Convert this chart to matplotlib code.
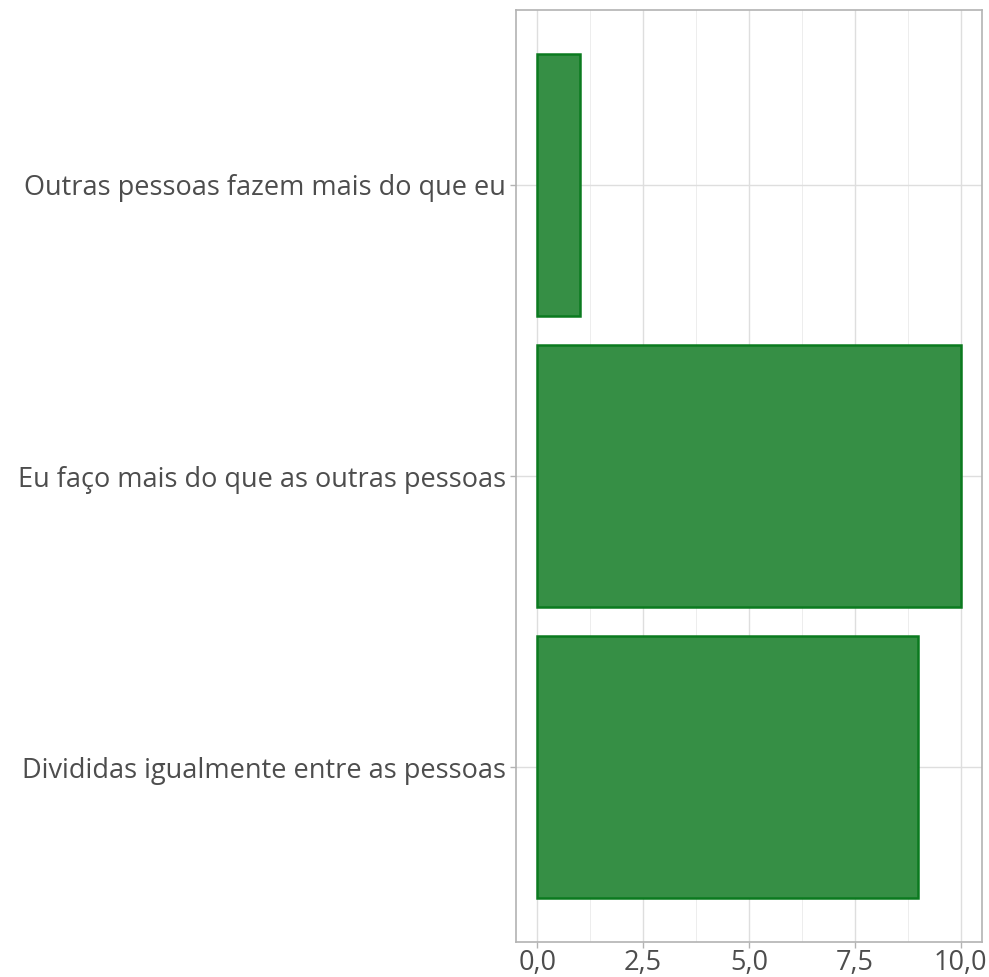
import matplotlib
matplotlib.use("Agg")
import matplotlib.pyplot as plt
from matplotlib.ticker import FixedLocator, FuncFormatter

categorias = ["Divididas igualmente entre as pessoas",
              "Eu faço mais do que as outras pessoas",
              "Outras pessoas fazem mais do que eu"]
valores = [9, 10, 1]
xticks = [0, 2.5, 5, 7.5, 10]
xminor = [1.25, 3.75, 6.25, 8.75]

plt.rcParams['font.family'] = ['Open Sans', 'DejaVu Sans']

W, H = 989, 977
fig = plt.figure(figsize=(W / 100, H / 100), dpi=100)
ax = fig.add_axes([516 / W, 1 - 942 / H, (982 - 516) / W, (942 - 10) / H])

ypos = list(range(1, len(categorias) + 1))
ax.barh(ypos, valores, height=0.9, color='#368f45', edgecolor='#0b7a1f',
        linewidth=1.8, zorder=3)

ax.set_xlim(-0.5, 10.5)
ax.set_ylim(0.4, 3.6)

ax.xaxis.set_major_locator(FixedLocator(xticks))
ax.xaxis.set_minor_locator(FixedLocator(xminor))
ax.xaxis.set_major_formatter(FuncFormatter(lambda v, p: f"{v:.1f}".replace(".", ",")))
ax.set_yticks(ypos)
ax.set_yticklabels(categorias)

ax.grid(True, which='major', color='#dedede', linewidth=1.0, zorder=0)
ax.grid(True, which='minor', axis='x', color='#ededed', linewidth=0.7, zorder=0)
ax.set_axisbelow(True)

for s in ax.spines.values():
    s.set_color('#b3b3b3')
    s.set_linewidth(1.2)

ax.tick_params(axis='both', which='major', colors='#b3b3b3', length=4, width=1,
               labelcolor='#4d4d4d', labelsize=19.5, pad=3)
ax.tick_params(axis='x', which='major', pad=1)
ax.tick_params(axis='both', which='minor', length=0)

fig.savefig("out.png", dpi=100, facecolor='white')
